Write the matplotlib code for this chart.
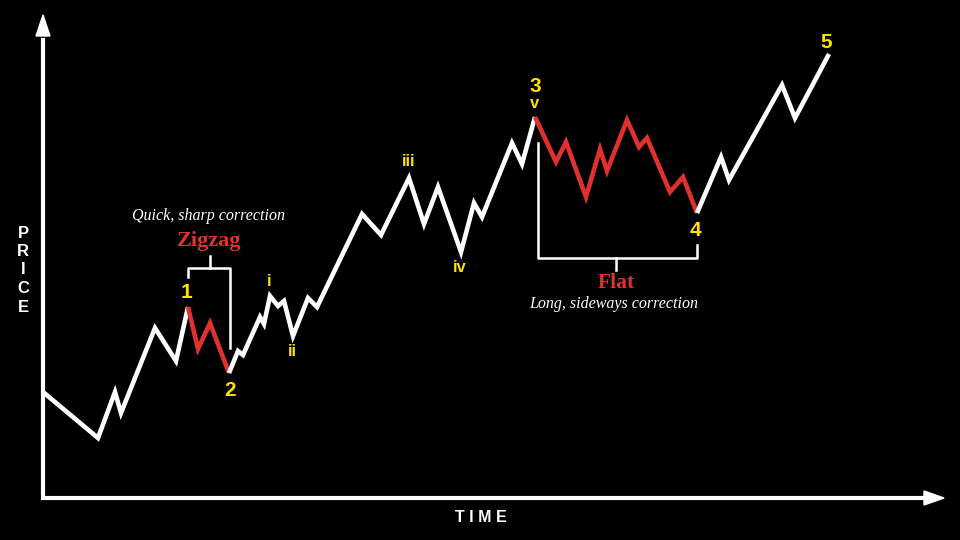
import matplotlib
matplotlib.use("Agg")
import matplotlib.pyplot as plt

# wave path (pixel coordinates, y down)
wave_x = [43, 98, 115, 121, 155, 176, 188, 198, 210, 229, 238, 243, 260, 264, 270,
          278, 284, 293, 308, 317, 362, 381, 409, 424, 438, 461, 474, 482, 512, 522,
          535, 556, 566, 586, 600, 607, 627, 639, 647, 670, 683, 697, 721, 729, 782,
          795, 829]
wave_y = [392, 438, 392, 413, 328, 361, 307, 349, 323, 373, 351, 355, 317, 324, 296,
          306, 301, 336, 298, 307, 214, 235, 178, 224, 187, 252, 203, 217, 143, 164,
          117, 162, 142, 197, 149, 171, 120, 147, 138, 192, 177, 213, 157, 180, 85,
          118, 54]

# path split into legs: (start index, end index, corrective?)
legs = [(0, 6, False), (6, 9, True), (9, 30, False), (30, 41, True), (41, 46, False)]

# wave labels
lab_text = ["1", "2", "3", "4", "5", "i", "ii", "iii", "iv", "v"]
lab_x = [187, 230, 535, 695, 826, 269, 292, 409, 460, 535]
lab_y = [292, 390, 86, 231, 42, 281, 352, 161, 268, 104]
lab_size = [15, 15, 15, 15, 15, 12, 12, 12, 12, 12]

WHITE = "white"
RED = "#e0312f"
YELLOW = "#ffe200"

fig = plt.figure(figsize=(9.6, 5.4), dpi=100, facecolor="black")
ax = fig.add_axes([0, 0, 1, 1])
ax.set_facecolor("black")
ax.set_xlim(0, 960)
ax.set_ylim(540, 0)
ax.axis("off")

# axes arrows
ax.plot([43, 43, 928], [40, 498, 498], color=WHITE, lw=3, solid_joinstyle="miter")
ax.fill([36, 50, 43], [36, 36, 15], color=WHITE)
ax.fill([924, 924, 944], [491, 505, 498], color=WHITE)
ax.text(481, 517, "T I M E", color=WHITE, fontsize=11.5, fontweight="bold",
        family="Liberation Sans", ha="center", va="center")
for k, ch in enumerate("PRICE"):
    ax.text(23, 233 + k * 18.5, ch, color=WHITE, fontsize=12, fontweight="bold",
            family="Liberation Sans", ha="center", va="center")

# wave path
for a, b, corr in legs:
    ax.plot(wave_x[a:b + 1], wave_y[a:b + 1], color=RED if corr else WHITE,
            lw=3.3, solid_joinstyle="miter", solid_capstyle="butt", zorder=3)

for t, x, y, s in zip(lab_text, lab_x, lab_y, lab_size):
    ax.text(x, y, t, color=YELLOW, fontsize=s, fontweight="bold",
            family="Liberation Sans", ha="center", va="center")

# zigzag bracket
ax.plot([188, 188, 230, 230], [277, 268, 268, 348], color=WHITE, lw=1.8)
ax.plot([210, 210], [268, 256], color=WHITE, lw=1.8)
ax.text(209, 241, "Zigzag", color=RED, fontsize=16, fontweight="bold",
        family="Liberation Serif", ha="center", va="center")
ax.text(209, 216, "Quick, sharp correction", color=WHITE, fontsize=11.5,
        style="italic", family="Liberation Serif", ha="center", va="center")

# flat bracket
ax.plot([538, 538, 697, 697], [143, 258, 258, 245], color=WHITE, lw=1.8)
ax.plot([616, 616], [258, 270], color=WHITE, lw=1.8)
ax.text(616, 283, "Flat", color=RED, fontsize=15.5, fontweight="bold",
        family="Liberation Serif", ha="center", va="center")
ax.text(614, 304, "Long, sideways correction", color=WHITE, fontsize=11.5,
        style="italic", family="Liberation Serif", ha="center", va="center")

fig.savefig("out.png", dpi=100, facecolor="black")
